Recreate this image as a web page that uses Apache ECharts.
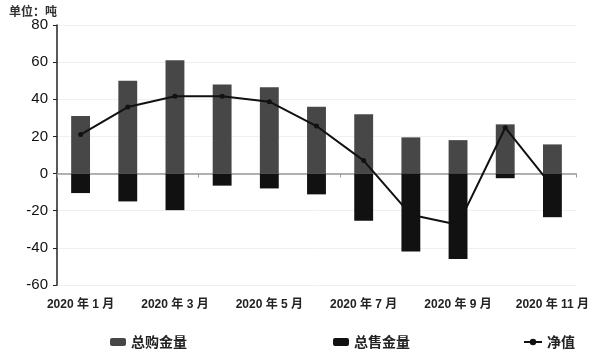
<!DOCTYPE html>
<html><head><meta charset="utf-8">
<script src="https://cdn.jsdelivr.net/npm/echarts@6/dist/echarts.min.js"></script>
<style>html,body{margin:0;padding:0;background:#fff}#c{width:600px;height:357px}</style>
</head><body><div id="c"></div>
<script>
const categories = ['2020 年 1 月','2020 年 2 月','2020 年 3 月','2020 年 4 月','2020 年 5 月','2020 年 6 月','2020 年 7 月','2020 年 8 月','2020 年 9 月','2020 年 10 月','2020 年 11 月'];
const purchase = [31, 50, 61, 48, 46.5, 36, 32, 19.5, 18, 26.5, 15.7];
const sales = [-10.5, -15, -19.7, -6.5, -8, -11.2, -25.4, -42, -46, -2.5, -23.5];
const net = [21, 35.8, 41.6, 41.6, 38.7, 25.6, 7, -22.2, -27.6, 24.7, -7];
const yTicks = [-60, -40, -20, 0, 20, 40, 60, 80];

const FONT = '"Liberation Sans", "Noto Sans CJK SC", sans-serif';
const CJK = '"Noto Sans CJK SC", sans-serif';
const legendText = { fontSize: 14, color: '#222', fontWeight: 'bold', fontFamily: CJK };
const chart = echarts.init(document.getElementById('c'));
chart.setOption({
  animation: false,
  textStyle: { fontFamily: FONT },
  title: { text: '单位：吨', left: 4, top: 0, textStyle: { fontSize: 12, fontWeight: 'bold', color: '#333', fontFamily: CJK } },
  grid: { left: 57, right: 24, top: 25, bottom: 72 },
  legend: [
    { data: ['总购金量'], left: 105, top: 330, itemWidth: 16, itemHeight: 8, textStyle: legendText },
    { data: ['总售金量'], left: 328, top: 330, itemWidth: 16, itemHeight: 8, textStyle: legendText },
    { data: ['净值'], left: 518, top: 330, itemWidth: 18, itemHeight: 8, textStyle: legendText }
  ],
  xAxis: [
    { type: 'category', data: categories, position: 'bottom',
      axisLine: { show: false, onZero: false }, axisTick: { show: false },
      axisLabel: { interval: 1, margin: 14, fontSize: 12, fontWeight: 'bold', color: '#222' } },
    { type: 'category', data: categories, position: 'bottom',
      axisLine: { show: true, onZero: true, lineStyle: { color: '#999', width: 1.5 } },
      axisTick: { show: true, length: 4, lineStyle: { color: '#999' } },
      axisLabel: { show: false } }
  ],
  yAxis: { type: 'value', min: -60, max: 80, interval: 20,
    axisLine: { show: true, lineStyle: { color: '#222', width: 1.5 } },
    axisTick: { show: true, length: 4, lineStyle: { color: '#222' } },
    axisLabel: { fontSize: 15, color: '#111', margin: 9, formatter: v => yTicks.includes(v) ? String(v) : '' },
    splitLine: { show: true, lineStyle: { color: '#f0f0f0' } } },
  series: [
    { name: '总购金量', type: 'bar', xAxisIndex: 0, data: purchase, barWidth: '40%', barGap: '-100%', itemStyle: { color: '#474747' } },
    { name: '总售金量', type: 'bar', xAxisIndex: 0, data: sales, barWidth: '40%', barGap: '-100%', itemStyle: { color: '#111111' } },
    { name: '净值', type: 'line', xAxisIndex: 0, data: net, symbol: 'circle', symbolSize: 5,
      lineStyle: { color: '#111', width: 2 }, itemStyle: { color: '#111' } }
  ]
});
</script></body></html>
